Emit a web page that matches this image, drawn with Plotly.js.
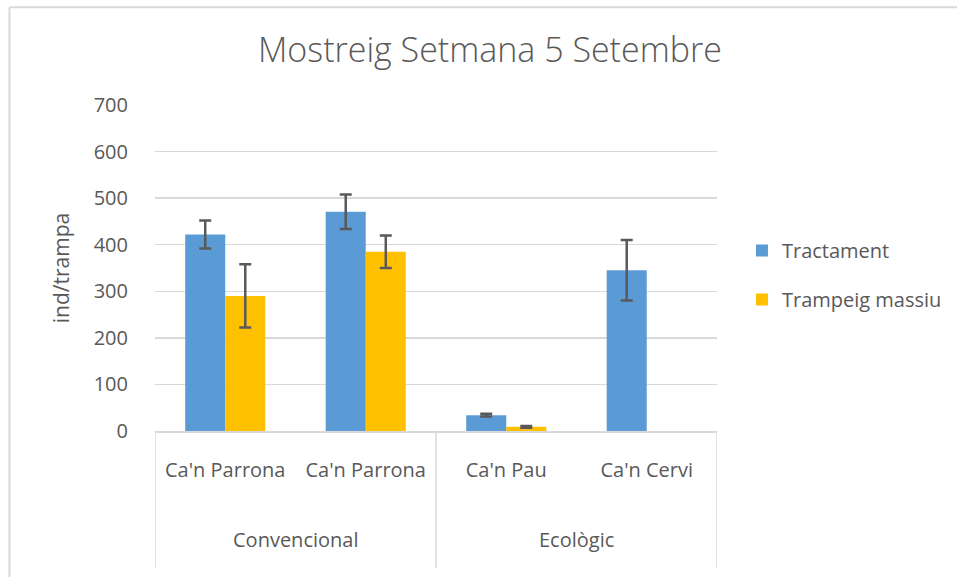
<!DOCTYPE html>
<html>
<head>
<meta charset="utf-8">
<script src="https://cdn.plot.ly/plotly-3.0.1.min.js"></script>
<style>html,body{margin:0;padding:0;background:#fff;}#chart{width:957px;height:577px;}</style>
</head>
<body>
<div id="chart"></div>
<script>
const categories = ["Ca'n Parrona", "Ca'n Parrona", "Ca'n Pau", "Ca'n Cervi"];
const groupLabels = ["Convencional", "Ecològic"];
const groupOf = [0, 0, 1, 1];
const tractament = [422, 471, 34, 345];
const tractamentErr = [30, 37, 3, 65];
const trampeig = [290, 385, 9, null];
const trampeigErr = [68, 35, 2, null];
const yTicks = [0, 100, 200, 300, 400, 500, 600, 700];

const FONT = "Open Sans, Lato, sans-serif";
const TXT = "#595959";
const GRID = "#D9D9D9";
const idx = categories.map((_, i) => i);

const errStyle = {type: "data", visible: true, color: "#595959", thickness: 2.5, width: 6};

const traces = [
  {type: "bar", name: "Tractament", x: idx, y: tractament, legendgroup: "a",
   marker: {color: "#5B9BD5"},
   error_y: Object.assign({array: tractamentErr}, errStyle)},
  {type: "bar", name: "Trampeig massiu", x: idx, y: trampeig, legendgroup: "b",
   marker: {color: "#FFC000"},
   error_y: Object.assign({array: trampeigErr}, errStyle)}
];

const annotations = groupLabels.map((g, gi) => {
  const members = idx.filter(i => groupOf[i] === gi);
  const cx = members.reduce((a, b) => a + b, 0) / members.length;
  return {text: g, x: cx, xref: "x", y: -0.334, yref: "paper", yanchor: "middle",
          showarrow: false, font: {family: FONT, size: 20, color: TXT}};
});
const bounds = [-0.5];
groupLabels.forEach((g, gi) => {
  const members = idx.filter(i => groupOf[i] === gi);
  bounds.push(Math.max(...members) + 0.5);
});
const shapes = bounds.map(b => ({type: "line", xref: "x", yref: "paper", x0: b, x1: b, y0: 0, y1: -0.42,
  line: {color: GRID, width: 1.5}}));
shapes.push({type: "line", xref: "paper", yref: "paper", x0: -0.259, x1: -0.259, y0: -0.6, y1: 1.3, line: {color: GRID, width: 2}});
shapes.push({type: "line", xref: "paper", yref: "paper", x0: -0.259, x1: 1.6, y0: 1.3, y1: 1.3, line: {color: GRID, width: 2}});

const layout = {
  width: 957, height: 577,
  margin: {l: 155, r: 240, t: 105, b: 146},
  paper_bgcolor: "#fff", plot_bgcolor: "#fff",
  font: {family: FONT, color: TXT, size: 20},
  title: {text: "Mostreig Setmana 5 Setembre", x: 0.596, xref: "paper", xanchor: "center",
          y: 0.913, yref: "container", yanchor: "middle",
          font: {family: FONT, size: 34, color: TXT, weight: 300}},
  barmode: "group", bargap: 0.43, bargroupgap: 0,
  showlegend: true,
  legend: {x: 0.7753, xref: "container", xanchor: "left", y: 0.5234, yref: "container", yanchor: "middle",
           tracegroupgap: 20,
           font: {family: FONT, size: 20, color: TXT}, bgcolor: "rgba(0,0,0,0)"},
  xaxis: {type: "linear", range: [-0.5, 3.5], tickvals: idx, ticktext: categories,
          showgrid: false, zeroline: false, showline: true, linecolor: GRID, linewidth: 1.5,
          ticks: "outside", ticklen: 20, tickcolor: "rgba(0,0,0,0)",
          tickfont: {family: FONT, size: 20, color: TXT}, fixedrange: true},
  yaxis: {range: [0, 700], tickvals: yTicks, showgrid: true, gridcolor: GRID, gridwidth: 1.5,
          zeroline: false, showline: false,
          ticks: "outside", ticklen: 22, tickcolor: "rgba(0,0,0,0)",
          tickfont: {family: FONT, size: 20, color: TXT},
          title: {text: "ind/trampa", standoff: 18, font: {family: FONT, size: 21, color: TXT}}},
  annotations: annotations,
  shapes: shapes
};

Plotly.newPlot("chart", traces, layout, {displayModeBar: false, staticPlot: true});
</script>
</body>
</html>
